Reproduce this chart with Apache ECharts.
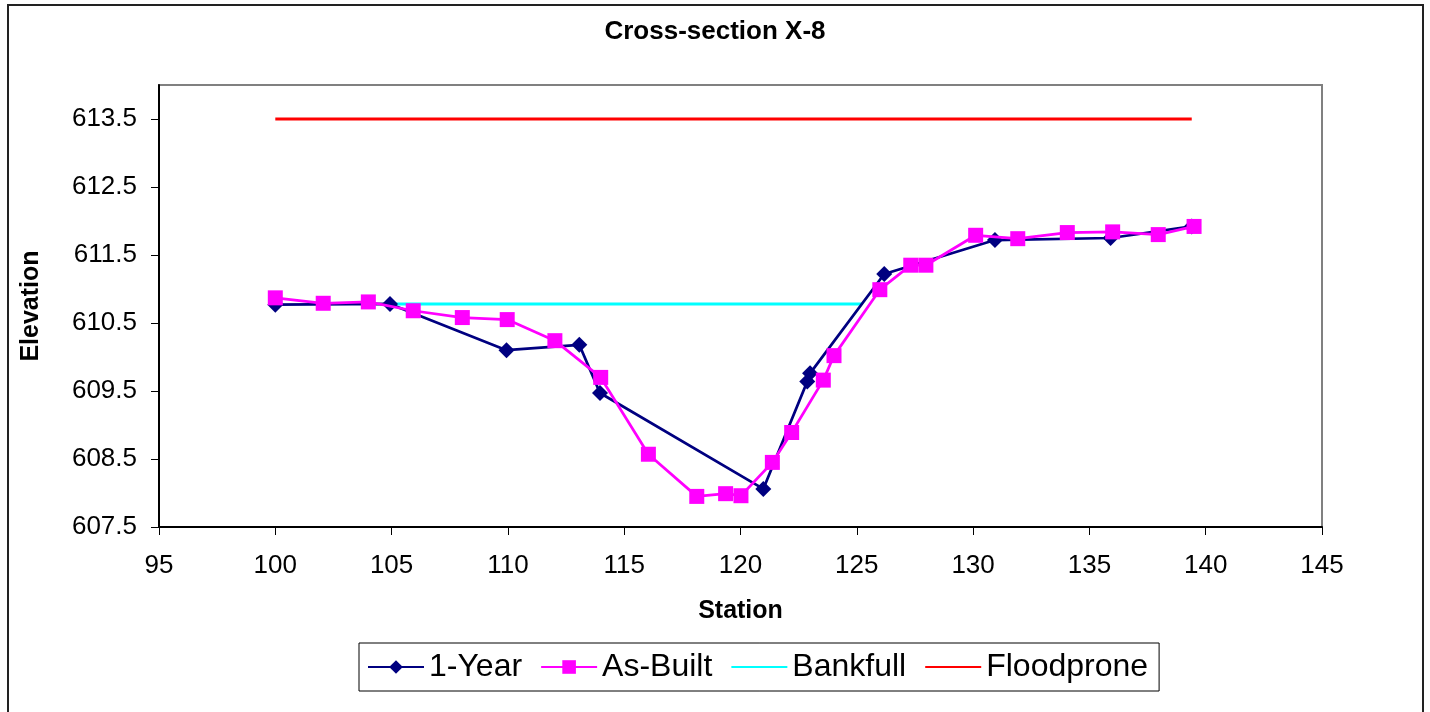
<!DOCTYPE html>
<html>
<head>
<meta charset="utf-8">
<title>Cross-section X-8</title>
<script src="https://cdn.jsdelivr.net/npm/echarts@6/dist/echarts.min.js"></script>
<style>
  html, body { margin: 0; padding: 0; background: #ffffff; }
  #chart { width: 1430px; height: 712px; }
</style>
</head>
<body>
<div id="chart"></div>
<script>
// Surveyed cross-section X-8: station (ft) vs elevation (ft)
const oneYear = [
  [100.0, 610.77], [104.93, 610.78], [109.94, 610.10], [113.07, 610.18],
  [113.96, 609.47], [120.98, 608.06], [122.87, 609.64], [122.99, 609.76],
  [126.18, 611.22], [130.94, 611.72], [135.91, 611.75], [139.4, 611.92]
];
const asBuilt = [
  [100.0, 610.87], [102.06, 610.79], [104.0, 610.81], [105.93, 610.68],
  [108.04, 610.58], [109.97, 610.55], [112.02, 610.24], [113.99, 609.70],
  [116.04, 608.57], [118.12, 607.95], [119.36, 607.99], [120.02, 607.96],
  [121.37, 608.45], [122.2, 608.89], [123.56, 609.66], [124.02, 610.02],
  [125.99, 610.99], [127.32, 611.35], [127.97, 611.35], [130.11, 611.79],
  [131.92, 611.74], [134.05, 611.83], [136.0, 611.84], [137.96, 611.80],
  [139.5, 611.92]
];
const bankfull = [[104.93, 610.78], [125.22, 610.78]];
const floodprone = [[100.0, 613.5], [139.4, 613.5]];
const elevationTicks = [607.5, 608.5, 609.5, 610.5, 611.5, 612.5, 613.5];

const FONT = '"Liberation Sans", Arial, sans-serif';

const chart = echarts.init(document.getElementById('chart'), null, { renderer: 'canvas' });

chart.setOption({
  backgroundColor: '#ffffff',
  animation: false,
  title: {
    text: 'Cross-section X-8',
    left: 'center',
    top: 19,
    padding: 0,
    textStyle: { fontFamily: FONT, fontSize: 26, fontWeight: 'bold', color: '#000' }
  },
  grid: {
    left: 159, right: 108, top: 85, bottom: 185,
    show: true, borderColor: '#808080', borderWidth: 2, backgroundColor: '#ffffff'
  },
  xAxis: {
    type: 'value',
    min: 95, max: 145, interval: 5,
    name: 'Station',
    nameLocation: 'middle',
    nameGap: 72,
    nameTextStyle: { fontFamily: FONT, fontSize: 25, fontWeight: 'bold', color: '#000' },
    axisLine: { show: true, onZero: false, lineStyle: { color: '#000', width: 2 } },
    axisTick: { show: true, inside: false, length: 8, lineStyle: { color: '#000', width: 1 } },
    axisLabel: { margin: 26, fontFamily: FONT, fontSize: 26, color: '#000' },
    splitLine: { show: false }
  },
  yAxis: {
    type: 'value',
    min: 607.5, max: 614,
    name: 'Elevation',
    nameLocation: 'middle',
    nameGap: 115,
    nameTextStyle: { fontFamily: FONT, fontSize: 25, fontWeight: 'bold', color: '#000' },
    axisLine: { show: true, onZero: false, lineStyle: { color: '#000', width: 2 } },
    axisTick: { show: true, inside: false, length: 8, customValues: elevationTicks,
                lineStyle: { color: '#000', width: 1 } },
    axisLabel: { margin: 22, customValues: elevationTicks, fontFamily: FONT, fontSize: 26, color: '#000',
                 formatter: v => v.toFixed(1) },
    splitLine: { show: false }
  },
  legend: {
    data: [
      { name: '1-Year' },
      { name: 'As-Built' },
      { name: 'Bankfull', itemStyle: { opacity: 0 } },
      { name: 'Floodprone', itemStyle: { opacity: 0 } }
    ],
    left: 359, top: 643,
    orient: 'horizontal',
    padding: [8, 11, 8, 8],
    itemWidth: 56, itemHeight: 17, itemGap: 18,
    borderColor: '#000', borderWidth: 1, backgroundColor: '#ffffff',
    textStyle: { fontFamily: FONT, fontSize: 32, color: '#000', padding: [0, 0, 0, 0] }
  },
  graphic: [{
    type: 'rect',
    shape: { x: 8, y: 5, width: 1415, height: 730 },
    style: { fill: null, stroke: '#222', lineWidth: 2 },
    silent: true, z: 0
  }],
  series: [
    {
      name: '1-Year', type: 'line', data: oneYear, z: 3,
      symbol: 'diamond', symbolSize: 16, showAllSymbol: true,
      itemStyle: { color: '#000080' },
      lineStyle: { color: '#000080', width: 2.75 }
    },
    {
      name: 'As-Built', type: 'line', data: asBuilt, z: 4,
      symbol: 'rect', symbolSize: 15, showAllSymbol: true,
      itemStyle: { color: '#ff00ff' },
      lineStyle: { color: '#ff00ff', width: 2.75 }
    },
    {
      name: 'Bankfull', type: 'line', data: bankfull, z: 2,
      symbol: 'none',
      itemStyle: { color: '#00ffff' },
      lineStyle: { color: '#00ffff', width: 3 }
    },
    {
      name: 'Floodprone', type: 'line', data: floodprone, z: 2,
      symbol: 'none',
      itemStyle: { color: '#ff0000' },
      lineStyle: { color: '#ff0000', width: 3 }
    }
  ]
});
</script>
</body>
</html>
